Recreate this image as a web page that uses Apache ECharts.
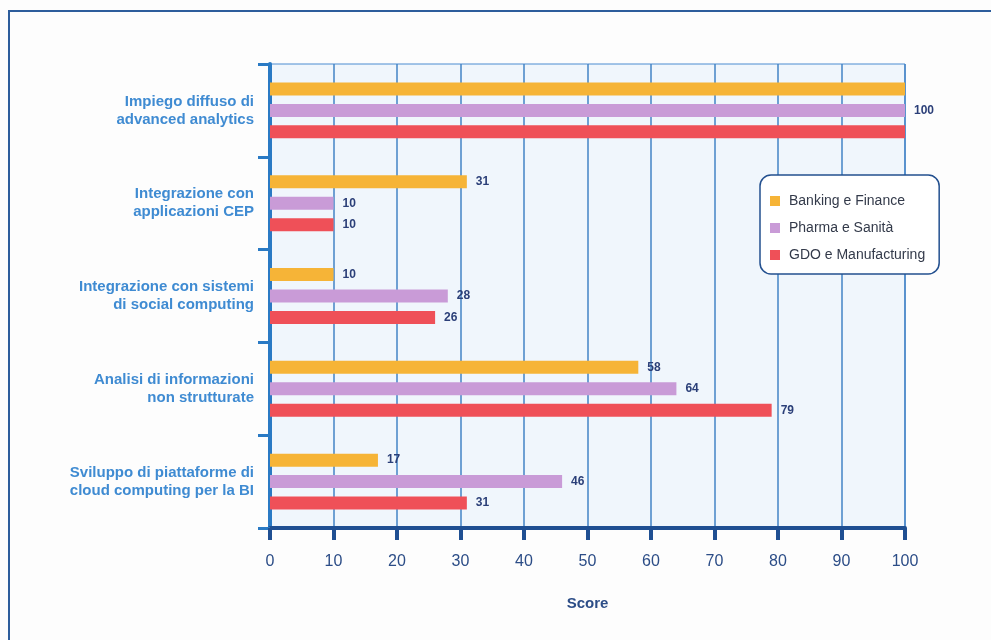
<!DOCTYPE html>
<html>
<head>
<meta charset="utf-8">
<script src="https://cdn.jsdelivr.net/npm/echarts@6/dist/echarts.min.js"></script>
<style>
  html, body { margin: 0; padding: 0; background: #fdfdfd; }
  #chart { width: 991px; height: 640px; }
</style>
</head>
<body>
<div id="chart"></div>
<script>
// Application areas, top to bottom
const categories = [
  'Impiego diffuso di\nadvanced analytics',
  'Integrazione con\napplicazioni CEP',
  'Integrazione con sistemi\ndi social computing',
  'Analisi di informazioni\nnon strutturate',
  'Sviluppo di piattaforme di\ncloud computing per la BI'
];

const seriesNames = ['Banking e Finance', 'Pharma e Sanità', 'GDO e Manufacturing'];

const bankingFinance = [100, 31, 10, 58, 17];
const pharmaSanita = [100, 10, 28, 64, 46];
const gdoManufacturing = [100, 10, 26, 79, 31];

const scoreTicks = [0, 10, 20, 30, 40, 50, 60, 70, 80, 90, 100];

const seriesValues = [bankingFinance, pharmaSanita, gdoManufacturing];
const colors = ['#f6b437', '#c99bd7', '#ef5058'];

// When all three sectors share the same score, a single label on the middle bar is enough
function labelVisible(seriesIdx, catIdx) {
  const vals = seriesValues.map(s => s[catIdx]);
  const allEqual = vals.every(v => v === vals[0]);
  return !allEqual || seriesIdx === 1;
}

const series = seriesNames.map((name, si) => ({
  name: name,
  type: 'bar',
  barWidth: 13,
  barGap: '65%',
  itemStyle: { color: colors[si] },
  label: {
    show: true,
    position: 'right',
    distance: 9,
    color: '#2b3f78',
    fontFamily: 'Liberation Sans, Arial, sans-serif',
    fontWeight: 'bold',
    fontSize: 12
  },
  data: seriesValues[si].map((v, ci) => ({
    value: v,
    label: { show: labelVisible(si, ci) }
  }))
}));

const chart = echarts.init(document.getElementById('chart'), null, { renderer: 'canvas' });

chart.setOption({
  backgroundColor: '#fdfdfd',
  animation: false,
  textStyle: { fontFamily: 'Liberation Sans, Arial, sans-serif' },
  grid: {
    left: 270,
    right: 86,
    top: 64,
    bottom: 112,
    show: true,
    backgroundColor: '#f0f6fc',
    borderColor: '#4a8bd0',
    borderWidth: 1
  },
  legend: {
    orient: 'vertical',
    left: 760,
    top: 175,
    padding: [19, 14, 12, 10],
    itemGap: 13,
    itemWidth: 10,
    itemHeight: 10,
    icon: 'rect',
    backgroundColor: '#ffffff',
    borderColor: '#23508f',
    borderWidth: 1.5,
    borderRadius: 11,
    textStyle: {
      color: '#333a4a',
      fontSize: 14,
      lineHeight: 14,
      padding: [0, 0, 0, 4]
    },
    data: seriesNames
  },
  xAxis: {
    type: 'value',
    min: 0,
    max: 100,
    interval: 10,
    name: 'Score',
    nameLocation: 'middle',
    nameGap: 68,
    nameTextStyle: { color: '#2c4d87', fontWeight: 'bold', fontSize: 15, verticalAlign: 'top' },
    axisLine: { show: true, lineStyle: { color: '#1f4f92', width: 4 } },
    axisTick: { show: true, length: 12, lineStyle: { color: '#1f4f92', width: 4 } },
    axisLabel: {
      color: '#2c4d87',
      fontSize: 16,
      margin: 26,
      formatter: v => scoreTicks.includes(v) ? String(v) : ''
    },
    splitLine: { show: true, lineStyle: { color: '#4383c6', width: 1.5 } }
  },
  yAxis: {
    type: 'category',
    inverse: true,
    data: categories,
    axisLine: { show: true, lineStyle: { color: '#2a7ac4', width: 4 } },
    axisTick: { show: true, length: 12, lineStyle: { color: '#2a7ac4', width: 3 } },
    axisLabel: {
      color: '#3f8bd2',
      fontWeight: 'bold',
      fontSize: 15,
      lineHeight: 18,
      margin: 16,
      align: 'right',
      padding: [3, 0, 0, 0]
    },
    splitLine: { show: false }
  },
  graphic: [
    {
      type: 'rect',
      shape: { x: 9, y: 11, width: 1000, height: 700 },
      style: { fill: 'none', stroke: '#2d5d9c', lineWidth: 2 },
      silent: true
    }
  ],
  series: series
});
</script>
</body>
</html>
